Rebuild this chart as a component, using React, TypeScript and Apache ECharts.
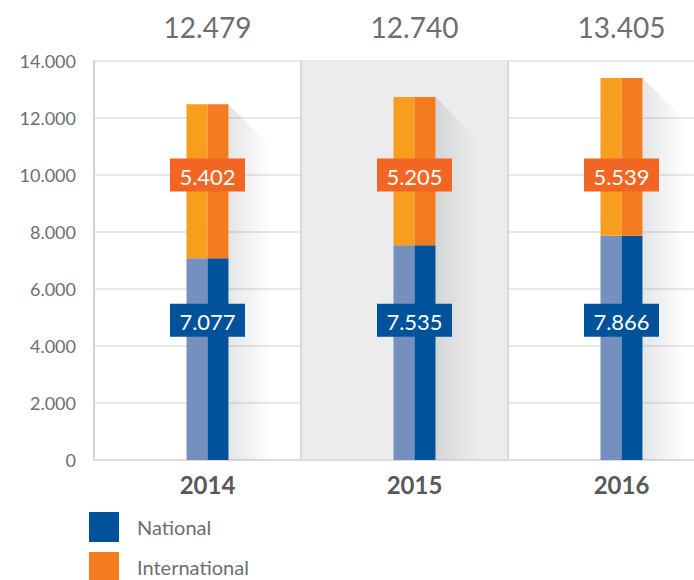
import React, { useEffect, useRef } from "react";
import * as echarts from "echarts";

const years = ["2014", "2015", "2016"];
const national = [7077, 7535, 7866];
const international = [5402, 5205, 5539];
const totals = [12479, 12740, 13405];
const yTicks = { min: 0, max: 14000, interval: 2000 };

const LABEL_Y_INT = 10000;
const LABEL_Y_NAT = 4900;
const HALF_W = 21;
const SHADOW_W = 42;

const fmt = (v: number) => {
  const s = String(Math.round(v));
  return s.replace(/\B(?=(\d{3})+(?!\d))/g, ".");
};

const FONT = "Lato, 'Open Sans', sans-serif";

export default function App() {
  const ref = useRef<HTMLDivElement>(null);
  useEffect(() => {
    if (!ref.current) return;
    const chart = echarts.init(ref.current, undefined, { renderer: "svg" });
    const labelSeries = (values: number[], yVal: number, color: string, name: string) => ({
      type: "custom",
      name,
      z: 5,
      silent: true,
      xAxisIndex: 2,
      yAxisIndex: 1,
      data: values.map((v, i) => [i, yVal, v]),
      renderItem: (params: any, api: any) => {
        const c = api.coord([api.value(0), api.value(1)]);
        return {
          type: "group",
          children: [
            {
              type: "rect",
              shape: { x: c[0] - 37.5, y: c[1] - 16.5, width: 75, height: 33 },
              style: { fill: color },
            },
            {
              type: "text",
              x: c[0],
              y: c[1] + 1,
              style: {
                text: fmt(api.value(2)),
                fill: "#ffffff",
                fontSize: 22,
                fontFamily: FONT,
                align: "center",
                verticalAlign: "middle",
              },
            },
          ],
        };
      },
    });
    const barBase = { type: "bar", barWidth: HALF_W, barGap: "0%", xAxisIndex: 2, yAxisIndex: 1, z: 3 };
    chart.setOption({
      animation: false,
      textStyle: { fontFamily: FONT },
      grid: [
        { left: 94, width: 621, top: 61, height: 399 },
        { left: 104, width: 621, top: 61, height: 399 },
      ],
      legend: {
        data: ["National", "International"],
        orient: "vertical",
        left: 84,
        top: 507,
        itemWidth: 30,
        itemHeight: 30,
        itemGap: 10,
        icon: "rect",
        textStyle: { fontSize: 20, color: "#6d6e71", fontFamily: FONT, padding: [0, 0, 0, 13] },
      },
      xAxis: [
        {
          type: "category",
          gridIndex: 0,
          data: years,
          axisLine: { show: true, lineStyle: { color: "#dcdcdc", width: 2 } },
          axisTick: { show: false },
          axisLabel: { show: false },
          splitLine: { show: true, interval: 0, lineStyle: { color: "#d9d9d9", width: 2 } },
          splitArea: { show: true, interval: 0, areaStyle: { color: ["rgba(0,0,0,0)", "#ececec"] } },
        },
        {
          type: "category",
          gridIndex: 1,
          position: "top",
          data: totals.map(fmt),
          axisLine: { show: false },
          axisTick: { show: false },
          splitLine: { show: false },
          axisLabel: { fontSize: 28, color: "#6d6e71", margin: 20, fontFamily: FONT },
        },
        {
          type: "category",
          gridIndex: 1,
          position: "bottom",
          data: years,
          axisLine: { show: false },
          axisTick: { show: false },
          splitLine: { show: false },
          axisLabel: { fontSize: 24, fontWeight: "bold", color: "#58595b", margin: 12, fontFamily: FONT },
        },
      ],
      yAxis: [
        {
          type: "value",
          gridIndex: 0,
          min: yTicks.min,
          max: yTicks.max,
          interval: yTicks.interval,
          axisLine: { show: true, lineStyle: { color: "#d3d3d3", width: 2 } },
          axisTick: { show: false },
          axisLabel: { fontSize: 18, color: "#6d6e71", margin: 18, formatter: (v: number) => fmt(v), fontFamily: FONT },
          splitLine: { lineStyle: { color: "#e8e8e8", width: 2 } },
        },
        {
          type: "value",
          gridIndex: 1,
          min: yTicks.min,
          max: yTicks.max,
          interval: yTicks.interval,
          show: false,
          splitLine: { show: false },
        },
      ],
      series: [
        {
          type: "custom",
          name: "shadow",
          z: 1,
          silent: true,
          xAxisIndex: 2,
          yAxisIndex: 1,
          data: totals.map((t, i) => [i, t]),
          renderItem: (params: any, api: any) => {
            const top = api.coord([api.value(0), api.value(1)]);
            const base = api.coord([api.value(0), 0]);
            const x0 = top[0] + HALF_W;
            return {
              type: "polygon",
              shape: {
                points: [
                  [x0, top[1]],
                  [x0 + SHADOW_W, top[1] + SHADOW_W],
                  [x0 + SHADOW_W, base[1]],
                  [x0, base[1]],
                ],
              },
              style: {
                fill: new echarts.graphic.LinearGradient(0, 0, 1, 0, [
                  { offset: 0, color: "rgba(60,70,80,0.14)" },
                  { offset: 1, color: "rgba(60,70,80,0)" },
                ]),
              },
            };
          },
        },
        { ...barBase, name: "natLight", stack: "L", data: national, itemStyle: { color: "#7590bf" } },
        { ...barBase, name: "intLight", stack: "L", data: international, itemStyle: { color: "#f89e1e" } },
        { ...barBase, name: "National", stack: "D", data: national, itemStyle: { color: "#00529b" } },
        { ...barBase, name: "International", stack: "D", data: international, itemStyle: { color: "#f47b20" } },
        labelSeries(international, LABEL_Y_INT, "#f26522", "intLabel"),
        labelSeries(national, LABEL_Y_NAT, "#00529b", "natLabel"),
      ],
    });
    return () => chart.dispose();
  }, []);
  return (
    <div style={{ position: "absolute", left: 0, top: 0, width: 694, height: 580, overflow: "hidden" }}>
      <div ref={ref} style={{ width: 730, height: 600 }} />
    </div>
  );
}
